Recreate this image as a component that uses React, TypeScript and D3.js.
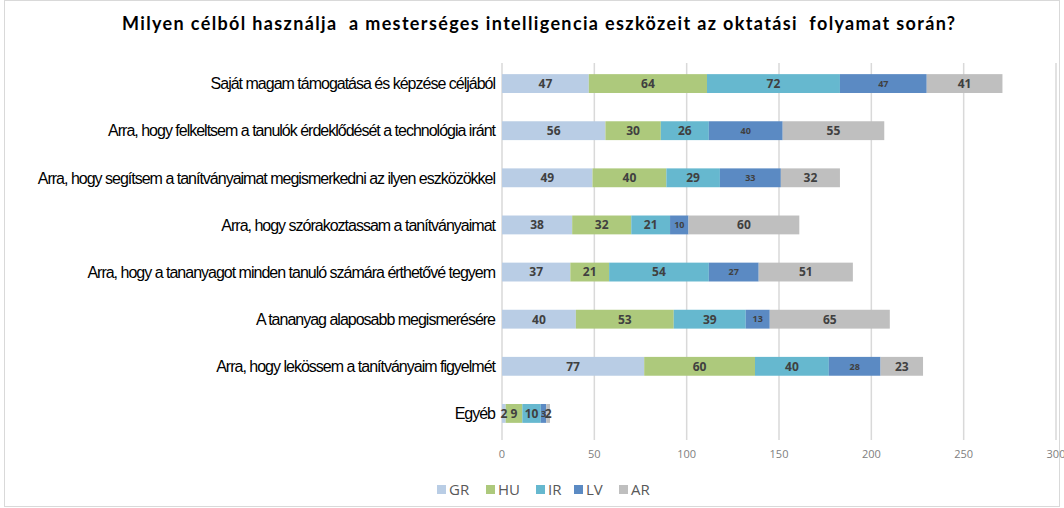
import React, { useEffect, useRef } from 'react';
import * as d3 from 'd3';

const categories = [
  'Saját magam támogatása és képzése céljából',
  'Arra, hogy felkeltsem a tanulók érdeklődését a technológia iránt',
  'Arra, hogy segítsem a tanítványaimat megismerkedni az ilyen eszközökkel',
  'Arra, hogy szórakoztassam a tanítványaimat',
  'Arra, hogy a tananyagot minden tanuló számára érthetővé tegyem',
  'A tananyag alaposabb megismerésére',
  'Arra, hogy lekössem a tanítványaim figyelmét',
  'Egyéb',
];
const seriesNames = ['GR', 'HU', 'IR', 'LV', 'AR'];
const GR = [47, 56, 49, 38, 37, 40, 77, 2];
const HU = [64, 30, 40, 32, 21, 53, 60, 9];
const IR = [72, 26, 29, 21, 54, 39, 40, 10];
const LV = [47, 40, 33, 10, 27, 13, 28, 3];
const AR = [41, 55, 32, 60, 51, 65, 23, 2];
const xTicks = [0, 50, 100, 150, 200, 250, 300];
const colors = ['#b9cde5', '#adc97c', '#66b8cf', '#5b8ac3', '#bfbfbf'];

const App = () => {
  const svgRef = useRef(null);

  useEffect(() => {
    const W = 1064;
    const H = 508;
    const svg = d3.select(svgRef.current);
    svg.selectAll('*').remove();

    const values = [GR, HU, IR, LV, AR];
    const rows = categories.map((c, i) => {
      const r: any = { cat: c };
      seriesNames.forEach((s, j) => (r[s] = values[j][i]));
      return r;
    });
    const stacked = d3.stack().keys(seriesNames)(rows);

    const x = d3.scaleLinear().domain([0, 300]).range([502, 1056]);
    const y = d3.scaleBand().domain(categories).range([60, 437]).paddingInner(0.6).paddingOuter(0.3);

    // outer border
    svg.append('rect')
      .attr('x', 4.5).attr('y', 0.5).attr('width', W - 9).attr('height', H - 2)
      .attr('fill', 'white').attr('stroke', '#d9d9d9');

    // title
    svg.append('text')
      .attr('x', 122).attr('y', 30)
      .attr('textLength', 833)
      .attr('lengthAdjust', 'spacing')
      .style('white-space', 'pre')
      .style('font-family', 'Lato, "Open Sans", sans-serif')
      .style('font-size', '18px')
      .style('font-weight', 'bold')
      .attr('fill', '#000')
      .text('Milyen célból használja  a mesterséges intelligencia eszközeit az oktatási  folyamat során?');

    // gridlines
    svg.append('g').selectAll('line')
      .data(xTicks)
      .enter().append('line')
      .attr('x1', d => x(d)).attr('x2', d => x(d))
      .attr('y1', 63).attr('y2', 440)
      .attr('stroke', '#d9d9d9').attr('stroke-width', 1.5);

    // tick labels
    svg.append('g').selectAll('text')
      .data(xTicks)
      .enter().append('text')
      .attr('x', d => x(d)).attr('y', 458)
      .attr('text-anchor', 'middle')
      .style('font-family', '"Open Sans", sans-serif')
      .style('font-size', '11px')
      .attr('fill', '#808080')
      .text(d => d);

    // bars
    const layers = svg.append('g').selectAll('g')
      .data(stacked)
      .enter().append('g')
      .attr('fill', (d, i) => colors[i]);

    layers.selectAll('rect')
      .data(d => d)
      .enter().append('rect')
      .attr('x', d => x(d[0]))
      .attr('y', d => y(d.data.cat))
      .attr('width', d => x(d[1]) - x(d[0]))
      .attr('height', y.bandwidth());

    // value labels
    stacked.forEach((layer, li) => {
      svg.append('g').selectAll('text')
        .data(layer)
        .enter().append('text')
        .attr('x', d => (x(d[0]) + x(d[1])) / 2)
        .attr('y', d => y(d.data.cat) + y.bandwidth() / 2)
        .attr('dy', '0.36em')
        .attr('text-anchor', 'middle')
        .style('font-family', '"Open Sans", sans-serif')
        .style('font-size', li === 3 ? '9px' : '12px')
        .style('font-weight', 'bold')
        .attr('fill', '#404040')
        .text(d => d[1] - d[0]);
    });

    // category labels
    svg.append('g').selectAll('text')
      .data(categories)
      .enter().append('text')
      .attr('x', 495)
      .attr('y', d => y(d) + y.bandwidth() / 2)
      .attr('dy', '0.36em')
      .attr('text-anchor', 'end')
      .style('font-family', '"Liberation Sans", Arial, sans-serif')
      .style('font-size', '16px')
      .style('letter-spacing', '-1px')
      .attr('fill', '#000')
      .text(d => d);

    // legend
    const legendX = [437, 486, 536, 574, 619];
    const lg = svg.append('g').selectAll('g')
      .data(seriesNames)
      .enter().append('g')
      .attr('transform', (d, i) => `translate(${legendX[i]},490)`);
    lg.append('rect')
      .attr('x', 0).attr('y', -5).attr('width', 9).attr('height', 9)
      .attr('fill', (d, i) => colors[i]);
    lg.append('text')
      .attr('x', 12).attr('y', 0).attr('dy', '0.36em')
      .style('font-family', '"Open Sans", sans-serif')
      .style('font-size', '15px')
      .attr('fill', '#595959')
      .text(d => d);
  }, []);

  return (
    <div style={{ position: 'fixed', left: 0, top: 0, width: 1064, height: 508, background: 'white' }}>
      <svg ref={svgRef} width={1064} height={508}></svg>
    </div>
  );
};

export default App;
